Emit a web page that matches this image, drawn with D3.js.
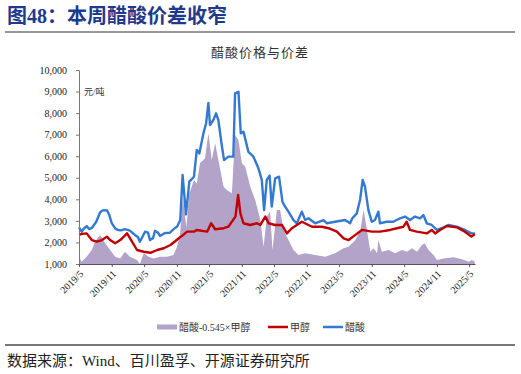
<!DOCTYPE html>
<html>
<head>
<meta charset="utf-8">
<script src="https://cdn.jsdelivr.net/npm/d3@7"></script>
<style>
  body { margin: 0; background: #fff; }
  svg text { font-family: "Liberation Serif", "Noto Sans CJK SC", serif; }
</style>
</head>
<body>
<div id="chart"></div>
<script>
// chart data
const tickLabels = ["2019/5", "2019/11", "2020/5", "2020/11", "2021/5", "2021/11", "2022/5",
  "2022/11", "2023/5", "2023/11", "2024/5", "2024/11", "2025/5"];
const yTicks = [1000, 2000, 3000, 4000, 5000, 6000, 7000, 8000, 9000, 10000];
const legendNames = ["醋酸-0.545×甲醇", "甲醇", "醋酸"];

// 醋酸
const acetic = [
  ["2019-05-01", 2700], ["2019-05-16", 2500], ["2019-05-29", 2650], ["2019-06-13", 2760],
  ["2019-06-26", 2620], ["2019-07-13", 2680], ["2019-08-05", 2950], ["2019-08-28", 3400],
  ["2019-09-14", 3500], ["2019-10-06", 3480], ["2019-10-17", 3300], ["2019-11-01", 2900],
  ["2019-11-20", 2650], ["2019-12-06", 2580], ["2019-12-23", 2560], ["2020-01-14", 2620],
  ["2020-02-11", 2550], ["2020-03-10", 2350], ["2020-03-27", 2250], ["2020-04-07", 2030],
  ["2020-04-24", 2300], ["2020-05-06", 2500], ["2020-05-23", 2450], ["2020-06-03", 2110],
  ["2020-06-20", 2200], ["2020-07-01", 2540], ["2020-07-18", 2450], ["2020-07-29", 2300],
  ["2020-08-26", 2440], ["2020-09-23", 2450], ["2020-10-21", 2670], ["2020-11-02", 2730],
  ["2020-11-20", 3040], ["2020-12-03", 5130], ["2020-12-22", 3300], ["2021-01-10", 4820],
  ["2021-02-05", 5050], ["2021-02-21", 6290], ["2021-03-07", 6130],
  ["2021-03-30", 7060], ["2021-04-14", 7520], ["2021-04-27", 8470], ["2021-05-06", 7450],
  ["2021-05-25", 7680], ["2021-06-09", 7990], ["2021-06-22", 7680], ["2021-07-11", 6520],
  ["2021-07-24", 5820], ["2021-08-17", 5980], ["2021-09-14", 5980], ["2021-09-24", 8920],
  ["2021-10-13", 8990], ["2021-10-26", 7060], ["2021-11-10", 7140], ["2021-12-08", 6200],
  ["2022-01-05", 5980], ["2022-02-02", 5440], ["2022-02-21", 4900], ["2022-03-06", 3500],
  ["2022-03-21", 4900], ["2022-04-06", 5100], ["2022-04-18", 3660], ["2022-05-07", 4970],
  ["2022-05-29", 5050], ["2022-06-17", 3890], ["2022-07-02", 3660], ["2022-07-21", 3430],
  ["2022-08-18", 3040], ["2022-09-06", 2890], ["2022-10-04", 3430], ["2022-10-23", 3040],
  ["2022-11-10", 3120], ["2022-12-18", 2890], ["2023-02-03", 3040], ["2023-02-22", 2890],
  ["2023-04-09", 2960], ["2023-06-04", 3040], ["2023-07-02", 2890], ["2023-07-15", 3120],
  ["2023-08-09", 3350], ["2023-08-27", 3970], ["2023-09-11", 4900], ["2023-09-24", 4590],
  ["2023-10-13", 3500], ["2023-11-01", 2960], ["2023-11-19", 3040], ["2023-12-08", 3430],
  ["2023-12-17", 2890], ["2024-01-24", 2960], ["2024-03-01", 2960], ["2024-04-08", 3120],
  ["2024-05-06", 3200], ["2024-06-03", 3040], ["2024-07-01", 3200], ["2024-07-29", 3120],
  ["2024-08-17", 3270], ["2024-09-05", 2890], ["2024-10-03", 2810], ["2024-10-31", 2580],
  ["2024-11-28", 2660], ["2025-01-04", 2810], ["2025-02-20", 2730], ["2025-04-07", 2580],
  ["2025-05-14", 2420], ["2025-06-02", 2420]
];

// 甲醇
const methanol = [
  ["2019-05-01", 2350], ["2019-05-18", 2400], ["2019-06-13", 2420], ["2019-07-12", 2110],
  ["2019-08-09", 2040], ["2019-09-07", 2110], ["2019-10-05", 2270], ["2019-10-23", 2110],
  ["2019-11-20", 1960], ["2019-12-19", 2110], ["2020-01-26", 2420], ["2020-02-23", 2040],
  ["2020-03-22", 1650], ["2020-04-29", 1570], ["2020-06-05", 1520], ["2020-07-13", 1650],
  ["2020-08-19", 1730], ["2020-09-26", 1880], ["2020-11-19", 2240], ["2020-12-07", 2350],
  ["2020-12-28", 2500], ["2021-02-04", 2500], ["2021-02-21", 2580], ["2021-04-20", 2500],
  ["2021-05-12", 2890], ["2021-06-04", 2610], ["2021-07-23", 2660], ["2021-08-17", 2730],
  ["2021-09-26", 3200], ["2021-10-11", 4200], ["2021-10-24", 3350], ["2021-11-10", 2890],
  ["2021-12-18", 2810], ["2022-01-25", 2890], ["2022-02-13", 2810], ["2022-03-13", 3200],
  ["2022-03-31", 2890], ["2022-05-07", 2810], ["2022-06-14", 2810], ["2022-07-12", 2420],
  ["2022-08-09", 2660], ["2022-10-04", 2960], ["2022-11-30", 2730], ["2023-01-25", 2730],
  ["2023-03-03", 2660], ["2023-04-19", 2500], ["2023-05-27", 2190], ["2023-06-24", 2110],
  ["2023-08-01", 2350], ["2023-09-07", 2580], ["2023-11-01", 2500], ["2023-12-17", 2500],
  ["2024-02-12", 2580], ["2024-03-21", 2660], ["2024-04-27", 2730], ["2024-05-15", 2960],
  ["2024-06-03", 2580], ["2024-07-11", 2500], ["2024-09-05", 2420], ["2024-10-03", 2580],
  ["2024-10-22", 2420], ["2024-11-19", 2580], ["2024-12-27", 2760], ["2025-02-22", 2700],
  ["2025-04-07", 2500], ["2025-05-14", 2270], ["2025-06-02", 2390]
];

// 醋酸-0.545×甲醇
const spread = [
  ["2019-05-01", 1340], ["2019-05-16", 1110], ["2019-06-13", 1340], ["2019-07-12", 1650],
  ["2019-07-30", 2040], ["2019-08-28", 2350], ["2019-09-25", 1960], ["2019-10-23", 1650],
  ["2019-11-20", 1340], ["2019-12-19", 1260], ["2020-01-14", 1570], ["2020-02-11", 1340],
  ["2020-03-22", 1190], ["2020-04-07", 1000], ["2020-04-29", 1500], ["2020-05-26", 1340],
  ["2020-06-23", 1260], ["2020-07-29", 1340], ["2020-09-06", 1340], ["2020-10-13", 1420],
  ["2020-11-02", 1800], ["2020-11-19", 2400], ["2020-12-05", 4100], ["2020-12-24", 2700],
  ["2021-01-10", 4280], ["2021-02-05", 4900], ["2021-02-21", 4740], ["2021-03-11", 5680],
  ["2021-04-08", 5900], ["2021-04-27", 7060],
  ["2021-05-16", 5820], ["2021-06-04", 6600], ["2021-06-22", 5820], ["2021-07-21", 4590],
  ["2021-08-08", 4430], ["2021-09-06", 4280], ["2021-09-24", 6980], ["2021-10-13", 6750],
  ["2021-11-01", 5670], ["2021-11-20", 5510], ["2021-12-18", 4590], ["2022-01-15", 3970],
  ["2022-02-13", 3040], ["2022-03-03", 1800], ["2022-03-22", 3200], ["2022-04-09", 3430],
  ["2022-04-22", 1650], ["2022-05-17", 3500], ["2022-06-04", 3500], ["2022-06-23", 2580],
  ["2022-07-21", 2110], ["2022-08-18", 1650], ["2022-09-15", 1420], ["2022-10-23", 1500],
  ["2022-12-18", 1420], ["2023-02-12", 1340], ["2023-04-09", 1500], ["2023-05-26", 1730],
  ["2023-06-24", 1800], ["2023-08-01", 2110], ["2023-08-29", 2580], ["2023-09-16", 3500],
  ["2023-10-05", 2580], ["2023-10-24", 1570], ["2023-11-11", 1730], ["2023-12-01", 1500],
  ["2023-12-08", 2110], ["2023-12-28", 1570], ["2024-02-03", 1650], ["2024-03-12", 1500],
  ["2024-04-19", 1650], ["2024-05-17", 1570], ["2024-06-14", 1730], ["2024-07-12", 1570],
  ["2024-08-09", 1880], ["2024-08-24", 1960], ["2024-09-15", 1650], ["2024-10-13", 1420],
  ["2024-11-01", 1190], ["2024-12-08", 1260], ["2025-02-03", 1310], ["2025-03-22", 1220],
  ["2025-04-29", 1110], ["2025-05-17", 1190], ["2025-06-02", 1110]
];

const width = 521, height = 374;
const parse = d3.timeParse("%Y-%m-%d");
const parseTick = d3.timeParse("%Y/%m");

let svg = d3.select("#chart")
    .append("svg")
    .attr("width", width)
    .attr("height", height);

// header
svg.append("text")
    .attr("x", 7)
    .attr("y", 23)
    .style("font-family", "'Liberation Serif', 'Noto Sans CJK SC', serif")
    .style("font-size", "20px")
    .style("font-weight", "bold")
    .attr("fill", "#1f3a8c")
    .text("图48：本周醋酸价差收窄");

svg.append("line")
    .attr("x1", 5).attr("x2", 515)
    .attr("y1", 32).attr("y2", 32)
    .attr("stroke", "#333")
    .attr("stroke-width", 1.2);

svg.append("text")
    .attr("x", 260)
    .attr("y", 57)
    .attr("text-anchor", "middle")
    .style("font-size", "13px")
    .attr("fill", "#333")
    .attr("letter-spacing", "1px")
    .text("醋酸价格与价差");

let x = d3.scaleTime()
    .domain([parse("2019-05-01"), parse("2025-06-03")])
    .range([79, 475]);

let y = d3.scaleLinear()
    .domain([1000, 10000])
    .range([264, 70]);

// spread area
let area = d3.area()
    .x(d => x(parse(d[0])))
    .y0(y(1000))
    .y1(d => y(d[1]));

svg.append("path")
    .datum(spread)
    .attr("d", area)
    .attr("fill", "#b3a3c8");

let line = d3.line()
    .x(d => x(parse(d[0])))
    .y(d => y(d[1]));

svg.append("path")
    .datum(acetic)
    .attr("d", line)
    .attr("fill", "none")
    .attr("stroke", "#3479d1")
    .attr("stroke-width", 2.4)
    .attr("stroke-linejoin", "round");

svg.append("path")
    .datum(methanol)
    .attr("d", line)
    .attr("fill", "none")
    .attr("stroke", "#c00000")
    .attr("stroke-width", 2.4)
    .attr("stroke-linejoin", "round");

// y axis
let yAxis = svg.append("g")
    .attr("transform", "translate(79,0)")
    .call(d3.axisLeft(y).tickValues(yTicks).tickFormat(d3.format(",")).tickSize(3).tickSizeOuter(0).tickPadding(9));
yAxis.select(".domain").attr("stroke", "#777");
yAxis.selectAll(".tick line").attr("stroke", "#777");
yAxis.selectAll("text")
    .style("font-family", "'Liberation Serif', serif")
    .style("font-size", "10px")
    .attr("fill", "#222");

svg.append("text")
    .attr("x", 84)
    .attr("y", 95)
    .style("font-size", "9px")
    .attr("fill", "#333")
    .text("元/吨");

// x axis
let tickDates = tickLabels.map(t => parseTick(t));
let xAxis = svg.append("g")
    .attr("transform", "translate(0,264)")
    .call(d3.axisBottom(x).tickValues(tickDates).tickFormat((d, i) => tickLabels[i]).tickSize(3).tickSizeOuter(0));
xAxis.select(".domain").attr("stroke", "#555");
xAxis.selectAll(".tick line").attr("stroke", "#555");
xAxis.selectAll("text")
    .attr("x", 0).attr("y", 0).attr("dy", "0.35em")
    .attr("transform", "translate(2,8) rotate(-45)")
    .attr("text-anchor", "end")
    .style("font-family", "'Liberation Serif', serif")
    .style("font-size", "10px")
    .attr("fill", "#222");

// legend
let lg = svg.append("g").attr("transform", "translate(0,327)");
lg.append("rect").attr("x", 157).attr("y", -2.5).attr("width", 20).attr("height", 5).attr("fill", "#b3a3c8");
lg.append("text").attr("x", 179).attr("y", 0).attr("dy", "0.35em").style("font-size", "10px").attr("fill", "#333").text(legendNames[0]);
lg.append("line").attr("x1", 268).attr("x2", 288).attr("y1", 0).attr("y2", 0).attr("stroke", "#c00000").attr("stroke-width", 2.5);
lg.append("text").attr("x", 290).attr("y", 0).attr("dy", "0.35em").style("font-size", "10px").attr("fill", "#333").text(legendNames[1]);
lg.append("line").attr("x1", 323).attr("x2", 343).attr("y1", 0).attr("y2", 0).attr("stroke", "#3479d1").attr("stroke-width", 2.5);
lg.append("text").attr("x", 345).attr("y", 0).attr("dy", "0.35em").style("font-size", "10px").attr("fill", "#333").text(legendNames[2]);

// footer
svg.append("line")
    .attr("x1", 5).attr("x2", 515)
    .attr("y1", 345).attr("y2", 345)
    .attr("stroke", "#777")
    .attr("stroke-width", 2);

svg.append("text")
    .attr("x", 7)
    .attr("y", 366)
    .style("font-size", "15px")
    .attr("fill", "#222")
    .text("数据来源：Wind、百川盈孚、开源证券研究所");
</script>
</body>
</html>
